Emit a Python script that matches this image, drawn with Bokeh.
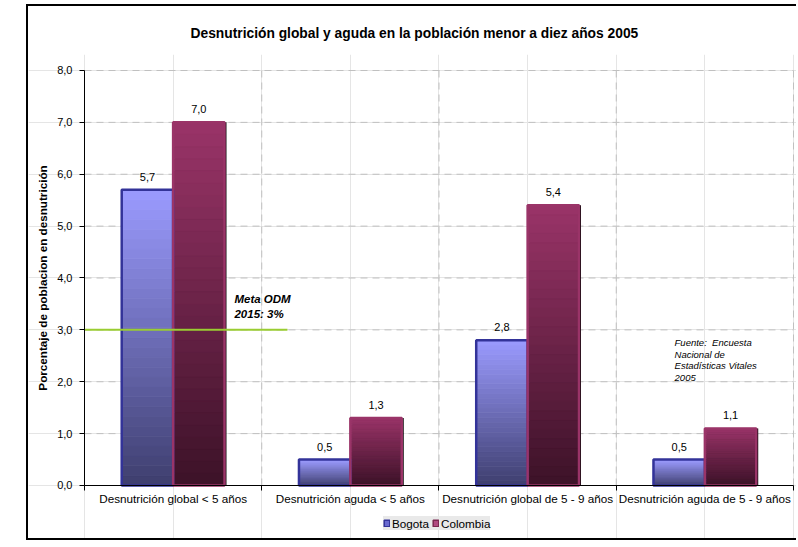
from bokeh.plotting import figure
from bokeh.models import (Range1d, LinearAxis, FixedTicker,
                          ColumnDataSource, Legend, LegendItem)
from bokeh.transform import dodge
from bokeh.core.properties import value
from bokeh.embed import file_html
from bokeh.resources import INLINE

# ---------------- data ----------------
categories = ["Desnutrición global < 5 años", "Desnutrición aguda < 5 años",
              "Desnutrición global de 5 - 9 años", "Desnutrición aguda de 5 - 9 años"]
series_names = ["Bogota", "Colombia"]
bogota = [5.7, 0.5, 2.8, 0.5]
colombia = [7.0, 1.3, 5.4, 1.1]
y_ticks = [0, 1, 2, 3, 4, 5, 6, 7, 8]
y_tick_labels = ["0,0", "1,0", "2,0", "3,0", "4,0", "5,0", "6,0", "7,0", "8,0"]
meta_value = 3.0
meta_label = "Meta ODM\n2015: 3%"
source_note = "Fuente:\u00a0 Encuesta\nNacional de\nEstadísticas Vitales\n2005"
title_text = "Desnutrición global y aguda en la población menor a diez años 2005"
y_label = "Porcentaje de poblacion en desnutrición"

FONT = "Liberation Sans"
BAR_W = 0.29
OFF = 0.145
N_SLICES = 30
W, H = 770, 536

centers = [i + 0.5 for i in range(len(categories))]   # category slot centres
edges = list(range(len(categories) + 1))              # category slot boundaries

def lerp_hex(c0, c1, t):
    a = [int(c0[i:i + 2], 16) for i in (1, 3, 5)]
    b = [int(c1[i:i + 2], 16) for i in (1, 3, 5)]
    return "#%02x%02x%02x" % tuple(round(a[k] + (b[k] - a[k]) * t) for k in range(3))

def slices(vals, bottom_col, top_col):
    xs, bs, ts, cs = [], [], [], []
    for c, v in zip(centers, vals):
        for k in range(N_SLICES):
            xs.append(c)
            bs.append(v * k / N_SLICES)
            ts.append(v * (k + 1) / N_SLICES)
            cs.append(lerp_hex(bottom_col, top_col, (k + 0.5) / N_SLICES))
    return ColumnDataSource(dict(x=xs, bottom=bs, top=ts, color=cs))

def fmt(v):
    return ("%.1f" % v).replace(".", ",")

# the frame covers the whole chart box; plot area is x 0..4, y 0..8 inside it
p = figure(x_range=Range1d(-0.3159, 4.0282), y_range=Range1d(-1.0988, 8.3084),
           width=W, height=H,
           output_backend="svg", toolbar_location=None,
           x_axis_location=None, y_axis_location=None,
           min_border_left=0, min_border_right=0, min_border_top=48, min_border_bottom=0)
p.outline_line_color = None
p.background_fill_color = "white"
p.border_fill_color = "white"
p.styles = {"margin-left": "26px", "margin-top": "4px",
            "border-left": "2px solid #000", "border-top": "2px solid #000",
            "border-bottom": "2px solid #000"}

# title
p.title.text = title_text
p.title.text_font = FONT
p.title.text_font_size = "13.8px"
p.title.text_font_style = "bold"
p.title.text_color = "#000000"
p.title.align = "left"
p.title.offset = 162
p.title.standoff = 27

# grid lines (dashed) inside the plot area
p.segment(x0=edges[0], x1=edges[-1], y0=y_ticks[1:], y1=y_ticks[1:],
          line_color="#C0C0C0", line_dash="7 5", line_width=1)
p.segment(x0=edges[1:], x1=edges[1:], y0=y_ticks[0], y1=y_ticks[-1],
          line_color="#C0C0C0", line_dash="7 5", line_width=1)

# y axis
ya = LinearAxis(fixed_location=edges[0], bounds=(y_ticks[0], y_ticks[-1]),
                ticker=FixedTicker(ticks=y_ticks),
                major_label_overrides={t: l for t, l in zip(y_ticks, y_tick_labels)},
                major_label_text_font=FONT, major_label_text_font_size="11px",
                major_label_text_color="#000000", major_tick_out=5, major_tick_in=0,
                minor_tick_line_color=None, major_label_standoff=7,
                axis_label=y_label, axis_label_text_font=FONT,
                axis_label_text_font_size="11.7px", axis_label_text_font_style="bold",
                axis_label_text_color="#000000", axis_label_standoff=5,
                axis_line_color="#000000", major_tick_line_color="#000000")
p.add_layout(ya, "left")

# x tick axis (ticks at category boundaries)
xa_ticks = LinearAxis(fixed_location=y_ticks[0], bounds=(edges[0], edges[-1]),
                      ticker=FixedTicker(ticks=edges),
                      major_label_overrides={t: "" for t in edges},
                      major_label_text_font_size="1px", major_label_standoff=0,
                      major_tick_out=5, major_tick_in=0, minor_tick_line_color=None,
                      axis_line_color="#000000", major_tick_line_color="#000000")
p.add_layout(xa_ticks, "below")
# x label axis (category names at slot centres)
xa_labels = LinearAxis(fixed_location=y_ticks[0], bounds=(edges[0], edges[-1]),
                       ticker=FixedTicker(ticks=centers),
                       major_label_overrides={c: n for c, n in zip(centers, categories)},
                       axis_line_color=None, major_tick_line_color=None,
                       major_tick_out=0, major_tick_in=0,
                       minor_tick_line_color=None, major_label_standoff=7,
                       major_label_text_font=FONT, major_label_text_font_size="11.7px",
                       major_label_text_color="#000000")
p.add_layout(xa_labels, "below")

src_col = ColumnDataSource(dict(x=centers, top=colombia, lbl=[fmt(v) for v in colombia]))
src_bog = ColumnDataSource(dict(x=centers, top=bogota, lbl=[fmt(v) for v in bogota]))

# Colombia shadow
p.vbar(x=dodge("x", OFF + 0.011), top="top", bottom=0, width=BAR_W,
       source=src_col, fill_color="#000000", line_color=None)

# gradient slices
sb = slices(bogota, "#3e3e6e", "#9b9bff")
sc = slices(colombia, "#3c1228", "#9a3468")
p.vbar(x=dodge("x", -OFF), bottom="bottom", top="top", width=BAR_W,
       source=sb, fill_color="color", line_color="color", line_width=0.8)
p.vbar(x=dodge("x", OFF), bottom="bottom", top="top", width=BAR_W,
       source=sc, fill_color="color", line_color="color", line_width=0.8)

# bar outlines
p.vbar(x=dodge("x", -OFF), top="top", bottom=0, width=BAR_W,
       source=src_bog, fill_color=None, line_color="#333399", line_width=2.5)
p.vbar(x=dodge("x", OFF), top="top", bottom=0, width=BAR_W,
       source=src_col, fill_color=None, line_color="#9a3468", line_width=2.5)

# value labels
for src, off in ((src_bog, -OFF), (src_col, OFF)):
    p.text(x=dodge("x", off), y="top", text="lbl", source=src,
           text_align="center", text_baseline="middle", y_offset=-13,
           text_font=value(FONT), text_font_size="11px", text_color="#000000")

# Meta ODM line and label
p.segment(x0=edges[0], x1=1.145, y0=meta_value, y1=meta_value,
          line_color="#9acd32", line_width=2)
p.text(x=[0.846], y=[3.72], text=[meta_label],
       text_align="left", text_baseline="top", text_font=value(FONT),
       text_font_size="11.5px", text_font_style="bold italic", text_line_height=1.3,
       text_color="#000000")

# source note
p.text(x=[3.329], y=[2.86], text=[source_note],
       text_align="left", text_baseline="top", text_font=value(FONT),
       text_font_size="9.5px", text_font_style="italic", text_line_height=1.05,
       text_color="#000000")

# legend proxies (one NaN row so the legend swatch is drawn, nothing in the plot)
nan = float("nan")
proxy = ColumnDataSource(dict(x=[nan], top=[nan]))
r_b = p.vbar(x="x", top="top", width=0.1, source=proxy, fill_color="#6a6ad0",
             line_color="#333399", line_width=1.5)
r_c = p.vbar(x="x", top="top", width=0.1, source=proxy, fill_color="#b04a80",
             line_color="#7a2850", line_width=1.5)
legend = Legend(items=[LegendItem(label=series_names[0], renderers=[r_b], index=0),
                       LegendItem(label=series_names[1], renderers=[r_c], index=0)],
                orientation="horizontal", location=(355, 12),
                background_fill_color="#E8E8E8", border_line_color=None,
                glyph_width=7, glyph_height=8, label_standoff=2, spacing=3,
                padding=3, margin=0, label_height=14,
                label_text_font=FONT, label_text_font_size="11.7px",
                label_text_color="#000000")
p.add_layout(legend, "center")

open("out.html", "w").write(file_html(p, INLINE))
